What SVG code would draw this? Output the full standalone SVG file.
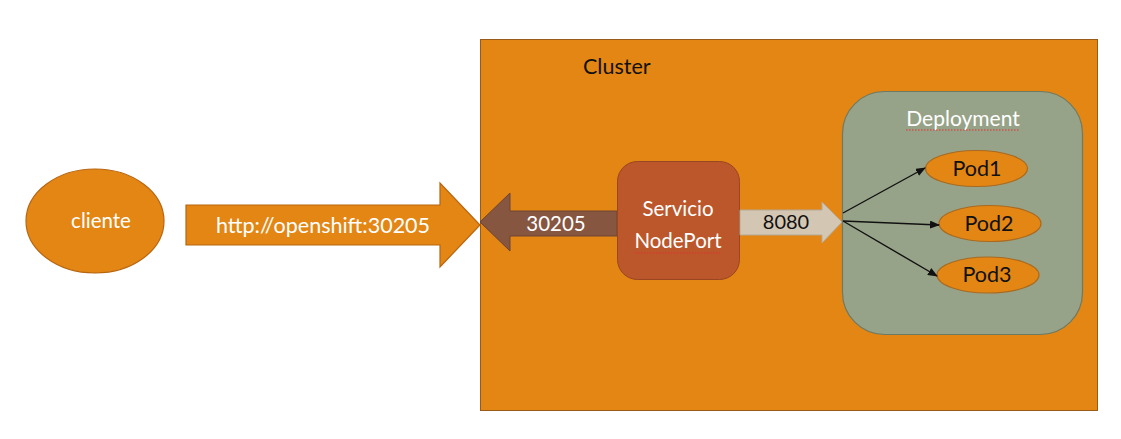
<svg xmlns="http://www.w3.org/2000/svg" width="1121" height="439" viewBox="0 0 1121 439">
<style>
.t{font-family:Lato,"Open Sans","Liberation Sans",sans-serif}
.w{fill:#ffffff}
.k{fill:#111111}
.org{fill:#E38614;stroke:#B8650F;stroke-width:1.2}
.pod{fill:#E38614;stroke:#A86A20;stroke-width:1.2}
.sq{stroke:#E03030;stroke-width:1;fill:none;stroke-dasharray:1.5 1.5}
</style>
<defs>
<marker id="ah" markerWidth="10" markerHeight="8" refX="9" refY="4" orient="auto" markerUnits="userSpaceOnUse">
<path d="M0,0 L10,4 L0,8 z" fill="#111"/>
</marker>
</defs>
<rect width="1121" height="439" fill="#ffffff"/>
<g id="cluster">
<rect x="480.5" y="39.5" width="617" height="371" fill="#E38614" stroke="#9A5A18" stroke-width="1"/>
<text class="t k" x="583" y="74" font-size="21.5">Cluster</text>
</g>
<g id="cliente">
<ellipse cx="95" cy="221" rx="69" ry="52" class="org"/>
<text class="t w" x="101" y="228" font-size="20.5" text-anchor="middle">cliente</text>
</g>
<g id="http-arrow">
<path d="M186,205 L440,205 L440,183 L480,225 L440,267 L440,245 L186,245 Z" class="org"/>
<text class="t w" x="323" y="233" font-size="21.5" text-anchor="middle">http://openshift:30205</text>
</g>
<g id="port-arrow">
<path d="M617,211 L510,211 L510,193 L480,222 L510,251 L510,236 L617,236 Z" fill="#865641" stroke="#6E4432" stroke-width="1"/>
<text class="t w" x="556" y="231" font-size="20.5" text-anchor="middle">30205</text>
</g>
<g id="servicio">
<rect x="617.5" y="161.5" width="122" height="118" rx="20" fill="#BC572B" stroke="#9A4620" stroke-width="1"/>
<text class="t w" x="678" y="216" font-size="20.5" text-anchor="middle">Servicio</text>
<text class="t w" x="678" y="248" font-size="20.5" text-anchor="middle">NodePort</text>
<path class="sq" d="M635,253 L720,253"/>
</g>
<g id="target-arrow">
<path d="M740,210 L822,210 L822,202 L842,222 L822,243 L822,235 L740,235 Z" fill="#D3C6B3" stroke="#B5A894" stroke-width="1"/>
<text class="t k" x="786" y="229" font-size="20" text-anchor="middle">8080</text>
</g>
<g id="deployment">
<rect x="842.5" y="91.5" width="240" height="243" rx="42" fill="#97A388" stroke="#6D7A63" stroke-width="1.2"/>
<text class="t w" x="963" y="126" font-size="21" text-anchor="middle">Deployment</text>
<path class="sq" d="M906,130 L1020,130"/>
</g>
<g id="pod1">
<ellipse cx="976.5" cy="168.5" rx="51" ry="18" class="pod"/>
<text class="t k" x="977" y="176" font-size="21.5" text-anchor="middle">Pod1</text>
</g>
<g id="pod2">
<ellipse cx="990" cy="223.5" rx="51" ry="18" class="pod"/>
<text class="t k" x="989" y="231" font-size="21.5" text-anchor="middle">Pod2</text>
</g>
<g id="pod3">
<ellipse cx="988" cy="275" rx="51" ry="18" class="pod"/>
<text class="t k" x="987" y="282" font-size="21.5" text-anchor="middle">Pod3</text>
</g>
<g id="connectors" stroke="#111" stroke-width="1.4" fill="none">
<path d="M843,213 L925,168" marker-end="url(#ah)"/>
<path d="M843,221 L939,225" marker-end="url(#ah)"/>
<path d="M843,221 L937,276" marker-end="url(#ah)"/>
</g>
</svg>
